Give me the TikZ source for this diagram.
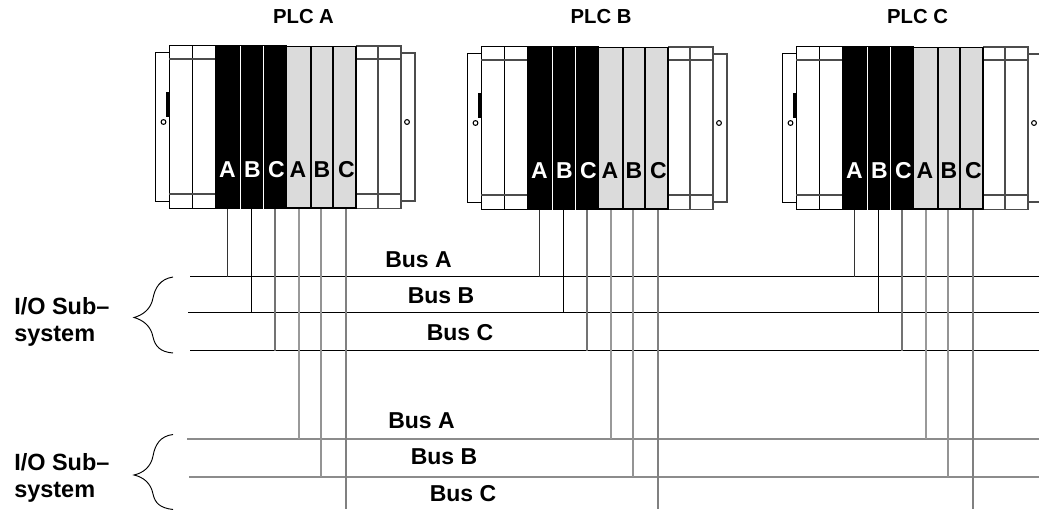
\documentclass[tikz,border=0pt]{standalone}
\usepackage{fontspec}
\setmainfont{Liberation Sans}
\tikzset{
  x=0.75pt,y=-0.75pt,
  frameline/.style={draw=black,line width=0.75pt},
  softline/.style={draw=black!70,line width=0.85pt},
  lett/.style={font=\bfseries\fontsize{17.25}{20}\selectfont,inner sep=0pt},
  title/.style={font=\bfseries\fontsize{15.2}{18}\selectfont,inner sep=0pt},
  buslabel/.style={font=\bfseries\fontsize{17.25}{20}\selectfont,inner sep=0pt},
  sidelabel/.style={font=\bfseries\fontsize{17.6}{20.6}\selectfont,inner sep=0pt,align=left,anchor=west},
  upperbus/.style={draw=black,line width=0.8pt},
  lowerbus/.style={draw=black!45,line width=1.5pt},
  bracecurve/.style={draw=black,line width=0.7pt},
  linkA/.style={draw=black!80,line width=0.8pt},
  linkB/.style={draw=black,line width=0.75pt},
  linkC/.style={draw=black!55,line width=1.1pt},
  linkD/.style={draw=black!40,line width=1.5pt},
  linkE/.style={draw=black!42,line width=1.5pt},
  linkF/.style={draw=black!50,line width=1.5pt},
}
\begin{document}
\begin{tikzpicture}
\useasboundingbox (0,0) rectangle (1039,510);
\clip (0,0) rectangle (1039,510);
% buses
\coordinate (ua0) at (190,276.5); \coordinate (ua1) at (1039,276.5);
\coordinate (ub0) at (188,312.5); \coordinate (ub1) at (1039,312.5);
\coordinate (uc0) at (190,350.5); \coordinate (uc1) at (1039,350.5);
\coordinate (la0) at (187,438.5); \coordinate (la1) at (1039,438.5);
\coordinate (lb0) at (189,476.5); \coordinate (lb1) at (1039,476.5);
\coordinate (lc0) at (189,508.5);
\draw[upperbus] (ua0) -- (ua1);
\draw[upperbus] (ub0) -- (ub1);
\draw[upperbus] (uc0) -- (uc1);
\draw[lowerbus] (la0) -- (la1);
\draw[lowerbus] (lb0) -- (lb1);
% PLC racks
\foreach \n/\dx/\dy/\tx/\lab in {a/0/0/303.5/PLC A,b/312/1/601/PLC B,c/627/1/917.5/PLC C}{
  \begin{scope}[shift={(\dx,\dy)}]
    \node[title] (title\n) at (\tx-\dx,16.7-\dy) {\lab};
    % side panels
    \draw[frameline] (169,53) -- (155,53) -- (155,201) -- (169,201);
    \draw[softline] (401,53) -- (415,53) -- (415,201) -- (401,201);
    \fill (166,92) rectangle (169,117);
    \draw[line width=0.8pt] (163.5,122) circle (2.4);
    \draw[line width=0.8pt] (407,122) circle (2.4);
    % frame
    \draw[frameline] (215,46) -- (169,46) -- (169,208.5) -- (215,208.5);
    \draw[softline] (356,46) -- (401,46) -- (401,208.5) -- (356,208.5);
    \draw[frameline] (192,46) -- (192,208.5);
    \draw[softline] (378,46) -- (378,208.5);
    \draw[softline] (169,59) -- (215,59);
    \draw[softline] (169,194) -- (215,194);
    \draw[softline] (356,59) -- (401,59);
    \draw[softline] (356,194) -- (401,194);
    % modules
    \fill (215,45.5) rectangle (287,209);
    \fill[black!14] (287,47) rectangle (356,208);
    \draw[line width=1.4pt] (287,46.5) -- (356,46.5) -- (356,208) -- (287,208);
    \draw[line width=1.4pt] (311,46.5) -- (311,208);
    \draw[line width=1.4pt] (333,46.5) -- (333,208);
    \draw[white,line width=0.75pt] (240,46) -- (240,209);
    \draw[white,line width=0.75pt] (263.5,46) -- (263.5,209);
    \node[lett,text=white] (l\n1) at (227.5,170) {A};
    \node[lett,text=white] (l\n2) at (252.5,170) {B};
    \node[lett,text=white] (l\n3) at (276.5,170) {C};
    \node[lett] (l\n4) at (298,170) {A};
    \node[lett] (l\n5) at (322,170) {B};
    \node[lett] (l\n6) at (346.5,170) {C};
    % connector tops
    \coordinate (t\n1) at (227.5,209);
    \coordinate (t\n2) at (251,209);
    \coordinate (t\n3) at (275,209);
    \coordinate (t\n4) at (298.5,209);
    \coordinate (t\n5) at (320.5,209);
    \coordinate (t\n6) at (346,209);
  \end{scope}
  \draw[linkA] (t\n1) -- (t\n1 |- ua0);
  \draw[linkB] (t\n2) -- (t\n2 |- ub0);
  \draw[linkC] (t\n3) -- (t\n3 |- uc0);
  \draw[linkD] (t\n4) -- (t\n4 |- la0);
  \draw[linkE] (t\n5) -- (t\n5 |- lb0);
  \draw[linkF] (t\n6) -- (t\n6 |- lc0);
}
% bus labels
\node[buslabel] (ba1) at (418.5,260) {Bus A};
\node[buslabel] (bb1) at (441,296) {Bus B};
\node[buslabel] (bc1) at (460,332.5) {Bus C};
\node[buslabel] (ba2) at (421.5,421) {Bus A};
\node[buslabel] (bb2) at (444,457) {Bus B};
\node[buslabel] (bc2) at (463,493.5) {Bus C};
% side labels
\node[sidelabel] (io1) at (14,322) {I/O Sub–\\system};
\node[sidelabel] (io2) at (14,478) {I/O Sub–\\system};
% braces
\coordinate (bt1) at (173,277); \coordinate (bm1) at (134,317.5); \coordinate (bb3) at (173,353);
\coordinate (bt2) at (173,434.5); \coordinate (bm2) at (134,475); \coordinate (bb4) at (173,509.5);
\draw[bracecurve] (bt1) .. controls (160,279) and (155,288) .. (153,298) .. controls (151,309) and (143,315) .. (bm1)
  .. controls (143,320) and (151,326) .. (153,337) .. controls (155,346) and (160,352) .. (bb3);
\draw[bracecurve] (bt2) .. controls (160,436) and (155,445) .. (153,456) .. controls (151,467) and (143,473) .. (bm2)
  .. controls (143,477) and (151,483) .. (153,494) .. controls (155,503) and (160,508) .. (bb4);
\end{tikzpicture}
\end{document}
